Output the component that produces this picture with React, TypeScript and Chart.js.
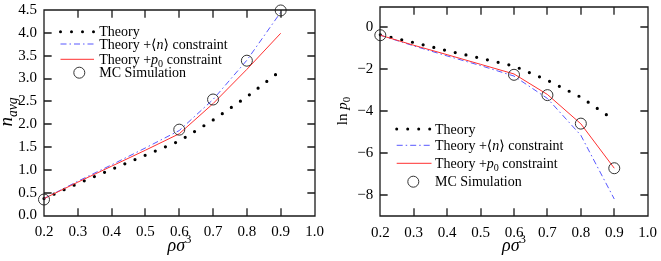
import React, { useEffect, useRef } from "react";
import { Chart, registerables } from "chart.js";
Chart.register(...registerables);

// ---- data ----
const rho = [0.2, 0.3, 0.4, 0.5, 0.6, 0.7, 0.8, 0.9];
const mcRho = [0.2, 0.6, 0.7, 0.8, 0.9];

const navgTheory = [0.37, 0.7, 1.01, 1.32, 1.63, 2.09, 2.6, 3.17];
const navgWithN = [0.37, 0.75, 1.11, 1.48, 1.86, 2.54, 3.4, 4.45];
const navgWithP0 = [0.37, 0.73, 1.08, 1.43, 1.79, 2.45, 3.2, 3.99];
const navgMC = [0.35, 1.88, 2.54, 3.39, 4.49];

const lnTheory = [-0.35, -0.72, -1.11, -1.47, -1.84, -2.52, -3.33, -4.42];
const lnWithN = [-0.37, -0.88, -1.36, -1.82, -2.32, -3.39, -5.15, -8.19];
const lnWithP0 = [-0.37, -0.85, -1.3, -1.76, -2.22, -3.2, -4.6, -6.72];
const lnMC = [-0.37, -2.26, -3.23, -4.59, -6.72];

const xTicks = [0.2, 0.3, 0.4, 0.5, 0.6, 0.7, 0.8, 0.9, 1.0];
const navgTicks = [0, 0.5, 1, 1.5, 2, 2.5, 3, 3.5, 4, 4.5];
const lnTicks = [-8, -6, -4, -2, 0];

const FONT = '"Liberation Serif", "DejaVu Serif", serif';
const TICK_SIZE = 15;
const LEG_SIZE = 14;
const BLUE = "rgba(70,70,255,0.9)";
const RED = "#ff3030";

type Seg = { t: string; it?: boolean; sub?: boolean; sup?: boolean };

function rich(ctx: CanvasRenderingContext2D, segs: Seg[], x: number, y: number, size: number, align: "left" | "center") {
  const fontOf = (s: Seg) => `${s.it ? "italic " : ""}${s.sub || s.sup ? size * 0.72 : size}px ${FONT}`;
  let total = 0;
  const widths = segs.map((s) => {
    ctx.font = fontOf(s);
    const w = ctx.measureText(s.t).width;
    total += w;
    return w;
  });
  let cx = align === "center" ? x - total / 2 : x;
  ctx.textAlign = "left";
  ctx.textBaseline = "alphabetic";
  ctx.fillStyle = "#000";
  segs.forEach((s, i) => {
    ctx.font = fontOf(s);
    ctx.fillText(s.t, cx, y + (s.sub ? size * 0.25 : s.sup ? -size * 0.42 : 0));
    cx += widths[i];
  });
}

const legendTexts: Seg[][] = [
  [{ t: "Theory" }],
  [{ t: "Theory +⟨" }, { t: "n", it: true }, { t: "⟩ constraint" }],
  [{ t: "Theory +" }, { t: "p", it: true }, { t: "0", sub: true }, { t: " constraint" }],
  [{ t: "MC Simulation" }],
];

const xTitle: Seg[] = [{ t: "ρσ", it: true }, { t: "3", sup: true }];

type Spec = {
  width: number;
  yAxisW: number;
  xAxisH: number;
  padTop: number;
  padRight: number;
  yMin: number;
  yMax: number;
  yTicks: number[];
  yFmt: (v: number) => string;
  theory: number[];
  withN: number[];
  withP0: number[];
  mc: number[];
  legend: { x0: number; x1: number; circleX: number; textX: number; rows: number[] };
  yTitle: Seg[];
  yTitleSize: number;
  yTitleX: number;
  yTitleY: number;
  xTitleY: number;
};

function makeChart(canvas: HTMLCanvasElement, sp: Spec) {
  const pts = (xs: number[], ys: number[]) => xs.map((x, i) => ({ x, y: ys[i] }));
  const TL = 7;
  const framePlugin = {
    id: "frameAndLegend",
    afterDraw(chart: any) {
      const ctx = chart.ctx as CanvasRenderingContext2D;
      const xs = chart.scales.x;
      const ys = chart.scales.y;
      const l = Math.round(xs.getPixelForValue(0.2));
      const r = Math.round(xs.getPixelForValue(1.0));
      const t = Math.round(ys.getPixelForValue(sp.yMax));
      const b = Math.round(ys.getPixelForValue(sp.yMin));
      ctx.save();
      ctx.setLineDash([]);
      ctx.strokeStyle = "#1a1a1a";
      ctx.lineWidth = 1.3;
      ctx.lineCap = "square";
      ctx.beginPath();
      ctx.rect(l, t, r - l, b - t);
      xTicks.forEach((v) => {
        const px = Math.round(xs.getPixelForValue(v));
        ctx.moveTo(px, b);
        ctx.lineTo(px, b - TL);
        ctx.moveTo(px, t);
        ctx.lineTo(px, t + TL);
      });
      sp.yTicks.forEach((v) => {
        const py = Math.round(ys.getPixelForValue(v));
        ctx.moveTo(l, py);
        ctx.lineTo(l + TL, py);
        ctx.moveTo(r, py);
        ctx.lineTo(r - TL, py);
      });
      ctx.stroke();
      ctx.restore();

      const L = sp.legend;
      ctx.save();
      ctx.strokeStyle = "#000";
      ctx.lineWidth = 3;
      ctx.lineCap = "round";
      ctx.setLineDash([0, 11]);
      ctx.beginPath();
      ctx.moveTo(L.x0, L.rows[0]);
      ctx.lineTo(L.x1 + 1, L.rows[0]);
      ctx.stroke();
      ctx.lineCap = "butt";
      ctx.lineWidth = 1;
      ctx.strokeStyle = BLUE;
      ctx.setLineDash([6, 3, 1.5, 3]);
      ctx.beginPath();
      ctx.moveTo(L.x0, L.rows[1]);
      ctx.lineTo(L.x1, L.rows[1]);
      ctx.stroke();
      ctx.setLineDash([]);
      ctx.strokeStyle = RED;
      ctx.beginPath();
      ctx.moveTo(L.x0, L.rows[2]);
      ctx.lineTo(L.x1, L.rows[2]);
      ctx.stroke();
      ctx.strokeStyle = "#333";
      ctx.beginPath();
      ctx.arc(L.circleX, L.rows[3], 5.5, 0, Math.PI * 2);
      ctx.stroke();
      legendTexts.forEach((segs, i) => rich(ctx, segs, L.textX, L.rows[i] + LEG_SIZE * 0.33, LEG_SIZE, "left"));
      rich(ctx, xTitle, (l + r) / 2, sp.xTitleY, 18, "center");
      ctx.translate(sp.yTitleX, sp.yTitleY);
      ctx.rotate(-Math.PI / 2);
      rich(ctx, sp.yTitle, 0, 0, sp.yTitleSize, "center");
      ctx.restore();
    },
  };

  return new Chart(canvas, {
    type: "line",
    data: {
      datasets: [
        {
          label: "Theory",
          data: pts(rho, sp.theory),
          borderColor: "#000",
          borderWidth: 3.2,
          borderDash: [0, 11],
          borderCapStyle: "round",
          pointRadius: 0,
          fill: false,
          clip: false,
          order: 4,
        },
        {
          label: "Theory +<n> constraint",
          data: pts(rho, sp.withN),
          borderColor: BLUE,
          borderWidth: 1,
          borderDash: [6, 3, 1.5, 3],
          pointRadius: 0,
          fill: false,
          clip: false,
          order: 3,
        },
        {
          label: "Theory +p0 constraint",
          data: pts(rho, sp.withP0),
          borderColor: RED,
          borderWidth: 1,
          pointRadius: 0,
          fill: false,
          clip: false,
          order: 2,
        },
        {
          label: "MC Simulation",
          data: pts(mcRho, sp.mc),
          showLine: false,
          pointStyle: "circle",
          pointRadius: 5.5,
          pointBorderColor: "#333",
          pointBackgroundColor: "rgba(0,0,0,0)",
          pointBorderWidth: 1,
          clip: false,
          order: 1,
        },
      ] as any,
    },
    options: {
      responsive: false,
      animation: false,
      devicePixelRatio: 1,
      layout: { padding: { top: sp.padTop, right: sp.padRight, left: 0, bottom: 0 } },
      plugins: { legend: { display: false }, tooltip: { enabled: false }, title: { display: false } },
      elements: { line: { tension: 0 } },
      scales: {
        x: {
          type: "linear",
          min: 0.2,
          max: 1.0,
          grid: { display: false, drawTicks: false },
          border: { display: false },
          afterBuildTicks: (s: any) => {
            s.ticks = xTicks.map((v) => ({ value: v }));
          },
          afterFit: (s: any) => {
            s.height = sp.xAxisH;
            s.paddingLeft = 0;
            s.paddingRight = 0;
          },
          ticks: {
            autoSkip: false,
            maxRotation: 0,
            padding: 8,
            color: "#000",
            font: { family: FONT, size: TICK_SIZE },
            callback: (v: any) => Number(v).toFixed(1),
          },
        },
        y: {
          type: "linear",
          min: sp.yMin,
          max: sp.yMax,
          grid: { display: false, drawTicks: false },
          border: { display: false },
          afterBuildTicks: (s: any) => {
            s.ticks = sp.yTicks.map((v) => ({ value: v }));
          },
          afterFit: (s: any) => {
            s.width = sp.yAxisW;
            s.paddingTop = 0;
            s.paddingBottom = 0;
          },
          ticks: {
            autoSkip: false,
            padding: 7,
            color: "#000",
            font: { family: FONT, size: TICK_SIZE },
            callback: (v: any) => sp.yFmt(Number(v)),
          },
        },
      },
    } as any,
    plugins: [framePlugin as any],
  });
}

const leftSpec: Spec = {
  width: 330,
  yAxisW: 44,
  xAxisH: 45.5,
  padTop: 10,
  padRight: 15.5,
  yMin: 0,
  yMax: 4.5,
  yTicks: navgTicks,
  yFmt: (v) => v.toFixed(1),
  theory: navgTheory,
  withN: navgWithN,
  withP0: navgWithP0,
  mc: navgMC,
  legend: { x0: 60.5, x1: 94, circleX: 79.3, textX: 99.3, rows: [31.7, 44, 59.3, 72.7] },
  yTitle: [{ t: "n", it: true }, { t: "avg", it: true, sub: true }],
  yTitleSize: 19,
  yTitleX: 12,
  yTitleY: 112,
  xTitleY: 251,
};

const rightSpec: Spec = {
  width: 331,
  yAxisW: 50.3,
  xAxisH: 45,
  padTop: 1.5,
  padRight: 13.3,
  yMin: -9,
  yMax: 1,
  yTicks: lnTicks,
  yFmt: (v) => (v < 0 ? "\u2212" + Math.abs(v) : String(v)),
  theory: lnTheory,
  withN: lnWithN,
  withP0: lnWithP0,
  mc: lnMC,
  legend: { x0: 66.7, x1: 101.5, circleX: 83.3, textX: 105, rows: [129, 145.3, 163.3, 181.7] },
  yTitle: [{ t: "ln " }, { t: "p", it: true }, { t: "0", sub: true }],
  yTitleSize: 15,
  yTitleX: 16.5,
  yTitleY: 111,
  xTitleY: 251,
};

function Panel({ spec, left }: { spec: Spec; left: number }) {
  const ref = useRef<HTMLCanvasElement>(null);
  useEffect(() => {
    if (!ref.current) return;
    const c = makeChart(ref.current, spec);
    return () => c.destroy();
  }, [spec]);
  return (
    <canvas
      ref={ref}
      width={spec.width}
      height={261}
      style={{ position: "absolute", left, top: 0, width: spec.width, height: 261 }}
    />
  );
}

export default function App() {
  return (
    <div style={{ position: "fixed", left: 0, top: 0, width: 661, height: 261, background: "#fff" }}>
      <Panel spec={leftSpec} left={0} />
      <Panel spec={rightSpec} left={330} />
    </div>
  );
}
